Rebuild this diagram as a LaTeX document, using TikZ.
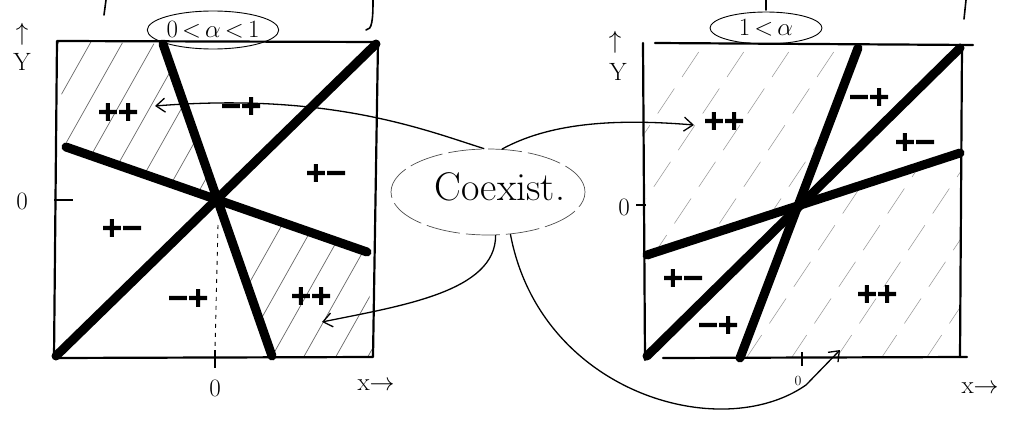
\documentclass[tikz,border=0pt]{standalone}
\usepackage{fontspec}
\newfontfamily\signfont[FakeBold=3.5]{DejaVu Sans}
\usetikzlibrary{arrows.meta,shapes.geometric}
\newcommand{\sg}[2]{#1\kern-2.5pt#2}
\begin{document}
\begin{tikzpicture}[x=1pt,y=-1pt,
  heavy/.style={line width=9pt, line cap=round},
  boxedge/.style={line width=2.2pt, line join=round, line cap=round},
  hatchA/.style={black!60, line width=0.7pt},
  hatchB/.style={black!40, line width=0.55pt, dash pattern=on 30pt off 14pt},
  conn/.style={line width=1.3pt},
  tipped/.style={-{Straight Barb[length=9pt,width=14pt,line width=1.3pt]}},
  sign/.style={font=\signfont\bfseries\fontsize{27}{27}\selectfont, inner sep=0pt},
  lab/.style={font=\fontsize{25}{25}\selectfont, inner sep=0pt},
  small/.style={font=\fontsize{14}{14}\selectfont, inner sep=0pt},
  frag/.style={line width=1.6pt, line cap=round}
]
\useasboundingbox (0,0) rectangle (1016,428);

% ---------- top fragments of cut-off writing ----------
\draw[frag] (106,0) -- (104,15);
\draw[frag] (373,0) .. controls (373,20) and (372,30) .. (366,30);
\draw[frag] (766,0) -- (766,10);
\draw[frag] (966,0) -- (964,19);

% ================= LEFT BOX =================
\coordinate (LA) at (57,41);
\coordinate (LB) at (378,42);
\coordinate (LC) at (373,357);
\coordinate (LD) at (54,358);
\coordinate (LO) at (218,200);
\coordinate (Ls1) at (163,44);
\coordinate (Ls2) at (272,356);
\coordinate (Ld1) at (56,356);
\coordinate (Ld2) at (376,44);
\coordinate (Lh1) at (66,147);
\coordinate (Lh2) at (367,252);

% hatching
\begin{scope}
  \clip (LA) -- (Ls1) -- (LO) -- (Lh1) -- cycle;
  \foreach \x in {-30,2,...,200} \draw[hatchA] (\x,200) -- ++(90,-160);
\end{scope}
\begin{scope}
  \clip (LO) -- (Ls2) -- (LC) -- (Lh2) -- cycle;
  \foreach \x in {206,238,...,400} \draw[hatchA] (\x,360) -- ++(90,-160);
\end{scope}

\draw[boxedge] (LA) -- (LB) -- (LC) -- (LD) -- cycle;
\draw[heavy] (Ls1) -- (Ls2);
\draw[heavy] (Ld1) -- (Ld2);
\draw[heavy] (Lh1) -- (Lh2);

% ticks and axes labels
\coordinate (Lty1) at (54,200);
\coordinate (Lty2) at (73,200);
\draw[line width=1.4pt] (Lty1) -- (Lty2);
\coordinate (Ltx1) at (215,350);
\coordinate (Ltx2) at (215,368);
\draw[line width=1.4pt] (Ltx1) -- (Ltx2);
\coordinate (Ldot) at (218,225);
\draw[line width=0.9pt, dash pattern=on 4pt off 5pt] (Ldot) -- (Ltx1);
\node[lab] (L0y) at (22,201) {0};
\node[lab] (L0x) at (215,388) {0};
\node[lab] (Lx) at (376,385) {x$\rightarrow$};
\node[lab] (LYa) at (22,34) {$\uparrow$};
\node[lab] (LY) at (22,62) {Y};

% signs
\node[sign] (l1) at (118,112) {\sg++};
\node[sign] (l2) at (241,106) {\sg−+};
\node[sign] (l3) at (326,173) {\sg+−};
\node[sign] (l4) at (122,228) {\sg+−};
\node[sign] (l5) at (188,298) {\sg−+};
\node[sign] (l6) at (311,296) {\sg++};

% alpha label
\node[ellipse, draw, line width=0.9pt, minimum width=126pt, minimum height=38pt, inner sep=0pt,
      font=\fontsize{23}{23}\selectfont] (a1) at (213,30) {$0\,{<}\,\alpha\,{<}\,1$};

% ================= RIGHT BOX =================
\coordinate (RA) at (643,43);
\coordinate (RB) at (962,45);
\coordinate (RC) at (960,357);
\coordinate (RD) at (645,360);
\coordinate (RO) at (800,200);
\coordinate (Rs1) at (858,48);
\coordinate (Rs2) at (740,358);
\coordinate (Rm1) at (960,48);
\coordinate (Rm2) at (647,356);
\coordinate (Rh1) at (960,153);
\coordinate (Rh2) at (647,255);

\begin{scope}
  \clip (RA) -- (Rs1) -- (RO) -- (Rh2) -- cycle;
  \foreach \x in {560,605,...,860} \draw[hatchB] (\x,260) -- ++(150,-225);
\end{scope}
\begin{scope}
  \clip (RO) -- (Rs2) -- (RC) -- (Rh1) -- cycle;
  \foreach \x in {700,745,...,1000} \draw[hatchB] (\x,360) -- ++(150,-225);
\end{scope}

\coordinate (RT1) at (655,43);
\coordinate (RT2) at (973,45);
\coordinate (RBo1) at (663,358);
\coordinate (RBo2) at (967,357);
\draw[boxedge] (RT1) -- (RT2);
\draw[boxedge] (RA) -- (RD);
\draw[boxedge] (RBo1) -- (RBo2);
\draw[boxedge] (RB) -- (RC);
\draw[heavy] (Rs1) -- (Rs2);
\draw[heavy] (Rm1) -- (Rm2);
\draw[heavy] (Rh1) -- (Rh2);

\coordinate (Rty1) at (636,205);
\coordinate (Rty2) at (646,205);
\draw[line width=1.4pt] (Rty1) -- (Rty2);
\coordinate (Rtx1) at (802,352);
\coordinate (Rtx2) at (802,366);
\draw[line width=1.2pt] (Rtx1) -- (Rtx2);
\node[lab] (R0y) at (624,207) {0};
\node[small] (R0x) at (798,381) {0};
\node[lab] (Rx) at (980,388) {x$\rightarrow$};
\node[lab] (RYa) at (615,42) {$\uparrow$};
\node[lab] (RY) at (618,72) {Y};

\node[sign] (r1) at (724,121) {\sg++};
\node[sign] (r2) at (869,97) {\sg−+};
\node[sign] (r3) at (915,142) {\sg+−};
\node[sign] (r4) at (683,278) {\sg+−};
\node[sign] (r5) at (718,325) {\sg−+};
\node[sign] (r6) at (877,294) {\sg++};

\node[ellipse, draw, line width=0.9pt, minimum width=112pt, minimum height=32pt, inner sep=0pt,
      font=\fontsize{23}{23}\selectfont] (a2) at (766,28) {$1\,{<}\,\alpha$};

% ================= COEXIST =================
\node[ellipse, draw=black!70, line width=0.7pt, dash pattern=on 34pt off 6pt,
      minimum width=194pt, minimum height=86pt] (co) at (488,192) {};
\node[font=\fontsize{40}{40}\selectfont, inner sep=0pt] (cot) at (500,187) {Coexist.};

\coordinate (e1) at (155,106);
\coordinate (e2) at (322,322);
\coordinate (e3) at (694,125);
\coordinate (e4k) at (806,385);
\coordinate (e4) at (840,350);

\draw[conn, tipped] (co.95) .. controls (425,130) and (330,92) .. (e1);
\draw[conn, tipped] (co.-80) .. controls (496,292) and (400,306) .. (e2);
\draw[conn, tipped] (co.72) .. controls (548,124) and (610,118) .. (e3);
\draw[conn, tipped] (co.-62) .. controls (540,392) and (720,445) .. (e4k) -- (e4);

\end{tikzpicture}
\end{document}
